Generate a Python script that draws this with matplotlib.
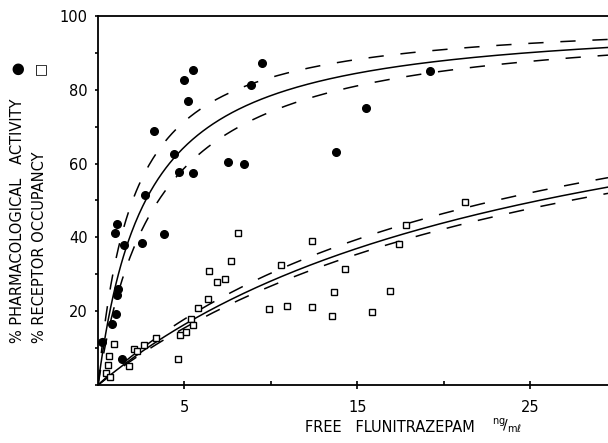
import numpy as np
import matplotlib
matplotlib.use("Agg")
import matplotlib.pyplot as plt
from matplotlib.ticker import MultipleLocator, FixedLocator

# % pharmacological activity (filled circles)
act_x = [0.21, 0.79, 1.02, 1.08, 1.14, 1.49, 0.98, 1.10, 1.40, 2.54, 3.83, 2.72, 3.24,
         4.41, 4.70, 5.49, 5.20, 4.95, 5.49, 7.50, 9.46, 8.86, 8.46, 15.51, 13.74, 19.23]
act_y = [11.7, 16.5, 19.2, 24.4, 25.9, 37.9, 41.3, 43.5, 7.1, 38.5, 40.8, 51.5, 68.9,
         62.7, 57.8, 57.5, 77.0, 82.7, 85.4, 60.3, 87.3, 81.4, 59.9, 75.1, 63.2, 85.1]

# % receptor occupancy (open squares)
occ_x = [0.45, 0.69, 0.56, 0.64, 0.91, 1.79, 2.06, 2.27, 2.68, 3.34, 4.61, 4.76, 5.07,
         5.36, 5.51, 5.78, 6.36, 6.86, 7.34, 6.43, 7.69, 8.09, 10.58, 9.90, 10.91,
         12.39, 12.37, 13.66, 13.53, 14.28, 15.86, 16.88, 17.40, 17.79, 21.21]
occ_y = [3.2, 2.3, 5.5, 7.9, 11.1, 5.2, 9.8, 9.3, 10.9, 12.7, 7.1, 13.6, 14.4,
         17.9, 16.3, 20.8, 23.2, 27.9, 28.6, 31.0, 33.6, 41.3, 32.5, 20.5, 21.5,
         39.1, 21.1, 25.3, 18.6, 31.4, 19.9, 25.6, 38.2, 43.4, 49.7]

# fitted hyperbolic curves E = Emax*C/(EC50+C): fit, upper and lower limit
e_max = 100
act_ec50 = [2.75, 2.0, 3.5]
occ_ec50 = [25.5, 23.0, 27.3]

x_ticks = [5, 15, 25]
y_ticks = [20, 40, 60, 80, 100]

fig = plt.figure(figsize=(6.08, 4.43), dpi=100)
ax = fig.add_axes([98 / 608, 58 / 443, 510 / 608, 369 / 443])

conc = np.linspace(0, 29.5, 400)
for k, ec50 in enumerate(act_ec50 + occ_ec50):
    style = "-" if k % 3 == 0 else (0, (10, 11))
    ax.plot(conc, e_max * conc / (ec50 + conc), color="black", lw=1.1, ls=style)

ax.plot(act_x, act_y, "o", ms=5.5, color="black", clip_on=False)
ax.plot(occ_x, occ_y, "s", ms=4.3, mfc="white", mec="black", mew=1.0, clip_on=False)

ax.set_xlim(0, 29.5)
ax.set_ylim(0, 100)
ax.spines["right"].set_visible(False)
for s in ["left", "bottom", "top"]:
    ax.spines[s].set_linewidth(1.3)

ax.xaxis.set_major_locator(FixedLocator(x_ticks))
ax.xaxis.set_minor_locator(FixedLocator([10, 20]))
ax.yaxis.set_major_locator(FixedLocator(y_ticks))
ax.yaxis.set_minor_locator(MultipleLocator(10))
ax.tick_params(axis="x", which="major", direction="inout", length=6, width=1.2,
               pad=8, labelsize=10.5, top=False)
ax.tick_params(axis="x", which="minor", direction="in", length=3, width=1.2, top=False)
ax.tick_params(axis="y", which="both", direction="out", length=2.5, width=1.2,
               pad=5, labelsize=10.5, right=False)

fig.text(305 / 608, 15 / 443, "FREE   FLUNITRAZEPAM", fontsize=10.5,
         ha="left", va="center")
fig.text(492 / 608, 17 / 443, r"$^{\mathrm{ng}}\!/_{\mathrm{m\ell}}$", fontsize=10,
         ha="left", va="center")

fig.text(18 / 608, 100 / 443, "% PHARMACOLOGICAL   ACTIVITY", fontsize=10.5,
         rotation=90, ha="center", va="bottom")
fig.text(40 / 608, 100 / 443, "% RECEPTOR OCCUPANCY", fontsize=10.5,
         rotation=90, ha="center", va="bottom")
fig.text(18 / 608, 375 / 443, "\u25CF", fontsize=11, rotation=90,
         ha="center", va="center")
fig.text(40 / 608, 375 / 443, "\u25A1", fontsize=10, rotation=90,
         ha="center", va="center")

fig.savefig("out.png", dpi=100)
